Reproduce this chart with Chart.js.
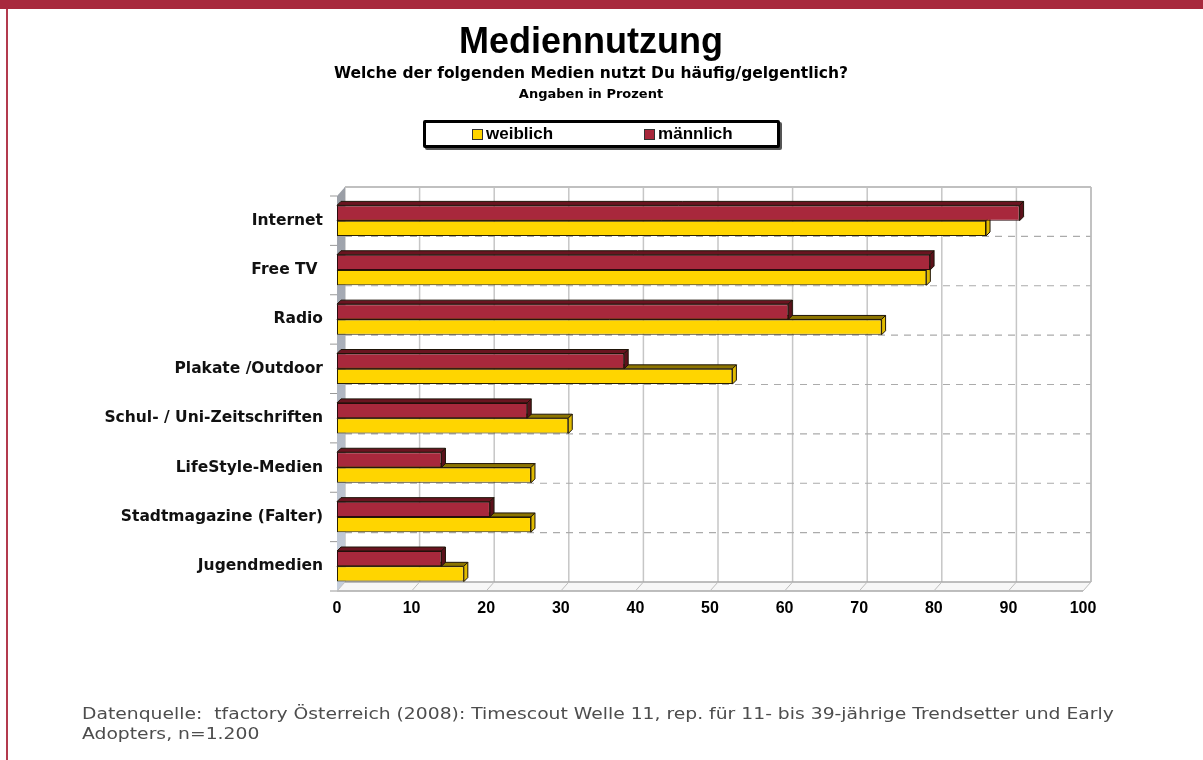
<!DOCTYPE html>
<html lang="de">
<head>
<meta charset="UTF-8">
<title>Mediennutzung</title>
<script src="https://cdn.jsdelivr.net/npm/chart.js@4.4.0/dist/chart.umd.min.js"></script>
<style>
    body{margin:0;background:#fff;overflow:hidden;}
    #wrap{position:relative;width:1203px;height:760px;}
    #topbar{position:absolute;left:0;top:0;width:1203px;height:9px;background:#a8293d;}
    #leftline{position:absolute;left:6px;top:9px;width:2px;height:751px;background:#b33a4d;}
    canvas{position:absolute;left:0;top:0;}
    .txt{position:absolute;left:0;width:1182px;text-align:center;color:#000;line-height:1;white-space:nowrap;}
    #titel{top:20px;font:bold 36px "Liberation Sans",Arial,sans-serif;}
    #frage{top:64px;font:bold 15.5px "DejaVu Sans",sans-serif;}
    #angaben{top:86px;font:bold 13px "DejaVu Sans",sans-serif;}
    #legende{position:absolute;left:423px;top:120px;width:305px;height:22px;border:3px solid #000;border-radius:2px;
        box-shadow:2px 2px 0 #555;background:#fff;display:flex;align-items:center;padding-left:46px;box-sizing:content-box;}
    #legende .item{display:flex;align-items:center;margin-right:91px;font:bold 17px "Liberation Sans",Arial,sans-serif;}
    #legende .box{width:9px;height:9px;border:1px solid #333;margin-right:3px;}
    #quelle{position:absolute;left:82px;top:704px;font:15px "DejaVu Sans",sans-serif;color:#4d4d4d;line-height:20px;
        white-space:nowrap;transform:scaleX(1.25);transform-origin:0 0;}
</style>
</head>
<body>
<div id="wrap">
    <div id="topbar"></div>
    <div id="leftline"></div>
    <canvas id="myChart" width="1203" height="760"></canvas>
    <div class="txt" id="titel">Mediennutzung</div>
    <div class="txt" id="frage">Welche der folgenden Medien nutzt Du häufig/gelgentlich?</div>
    <div class="txt" id="angaben">Angaben in Prozent</div>
    <div id="legende"></div>
    <div id="quelle">Datenquelle:&nbsp; tfactory Österreich (2008): Timescout Welle 11, rep. für 11- bis 39-jährige Trendsetter und Early<br>Adopters, n=1.200</div>
</div>
<script>
// Werte (Prozent)
const kategorien = ['Internet', 'Free TV ', 'Radio', 'Plakate /Outdoor', 'Schul- / Uni-Zeitschriften',
    'LifeStyle-Medien', 'Stadtmagazine (Falter)', 'Jugendmedien'];
const weiblich = [87, 79, 73, 53, 31, 26, 26, 17];
const maennlich = [91.5, 79.5, 60.5, 38.5, 25.5, 14, 20.5, 14];
const skala = [0, 10, 20, 30, 40, 50, 60, 70, 80, 90, 100];

// farben: vorne, dach, seite
const farben = {
    'männlich': {vorne: '#a8283c', dach: '#6a1420', seite: '#5c111b'},
    'weiblich': {vorne: '#ffd500', dach: '#8c7400', seite: '#e0bb00'}
};
const wand = {dx: 8, dy: -9};   // versatz der rueckwand
const balkenTiefe = 4;

var f_poly = function(ctx, pts, fill){
    ctx.beginPath();
    ctx.moveTo(pts[0][0], pts[0][1]);
    for (var i = 1; i < pts.length; i++) ctx.lineTo(pts[i][0], pts[i][1]);
    ctx.closePath();
    if (fill) { ctx.fillStyle = fill; ctx.fill(); }
};
var f_line = function(ctx, x1, y1, x2, y2){
    ctx.beginPath(); ctx.moveTo(x1, y1); ctx.lineTo(x2, y2); ctx.stroke();
};

// 3D rahmen: rueckwand, linke wand, boden
const rahmen3D = {
    id: 'rahmen3D',
    beforeDatasetsDraw(chart){
        const ctx = chart.ctx, a = chart.chartArea, x = chart.scales.x, y = chart.scales.y;
        const dx = wand.dx, dy = wand.dy;
        const band = y.getPixelForValue(1) - y.getPixelForValue(0);
        ctx.save();
        // rueckwand
        ctx.fillStyle = '#fff';
        ctx.fillRect(a.left + dx, a.top + dy, a.width, a.height);
        ctx.strokeStyle = '#c6c6c6'; ctx.lineWidth = 1.5;
        x.ticks.forEach(function(t){
            var px = x.getPixelForValue(t.value) + dx;
            f_line(ctx, px, a.top + dy, px, a.bottom + dy);
        });
        ctx.strokeStyle = '#c0c0c0'; ctx.lineWidth = 2;
        f_line(ctx, a.left + dx, a.top + dy, a.right + dx, a.top + dy);
        // gestrichelte linien zwischen kategorien
        ctx.setLineDash([7, 6]); ctx.strokeStyle = '#ababab'; ctx.lineWidth = 1.2;
        for (var i = 1; i < kategorien.length; i++){
            var py = y.getPixelForValue(i) - band / 2 + dy;
            f_line(ctx, a.left + dx, py, a.right + dx, py);
        }
        ctx.setLineDash([]);
        // linke wand
        var g = ctx.createLinearGradient(0, a.top, 0, a.bottom);
        g.addColorStop(0, '#9a9ea6'); g.addColorStop(1, '#c6cfdd');
        f_poly(ctx, [[a.left, a.top], [a.left + dx, a.top + dy], [a.left + dx, a.bottom + dy], [a.left, a.bottom]], g);
        // boden
        f_poly(ctx, [[a.left, a.bottom], [a.right, a.bottom], [a.right + dx, a.bottom + dy], [a.left + dx, a.bottom + dy]], '#f7f7f7');
        ctx.strokeStyle = '#a8a8a8'; ctx.lineWidth = 1.5;
        f_line(ctx, a.left, a.bottom, a.right, a.bottom);
        f_line(ctx, a.left + dx, a.bottom + dy, a.right + dx, a.bottom + dy);
        ctx.strokeStyle = '#bdbdbd'; ctx.lineWidth = 1.5;
        f_line(ctx, a.right + dx, a.top + dy, a.right + dx, a.bottom + dy);
        ctx.lineWidth = 1;
        x.ticks.forEach(function(t){
            var px = x.getPixelForValue(t.value);
            f_line(ctx, px, a.bottom, px + dx, a.bottom + dy);
        });
        // kleine striche an der y-achse
        ctx.strokeStyle = '#999';
        for (var k = 0; k <= kategorien.length; k++){
            var yy = y.getPixelForValue(0) - band / 2 + k * band;
            f_line(ctx, a.left - 7, yy, a.left, yy);
        }
        ctx.restore();
    },
    // dach und seite der balken
    afterDatasetDraw(chart, args){
        const ctx = chart.ctx, d = balkenTiefe;
        const f = farben[chart.data.datasets[args.index].label];
        ctx.save();
        ctx.strokeStyle = '#1e1408'; ctx.lineWidth = 1;
        args.meta.data.forEach(function(bar){
            const p = bar.getProps(['x', 'y', 'base', 'height'], true);
            const top = p.y - p.height / 2, bottom = p.y + p.height / 2;
            f_poly(ctx, [[p.base, top], [p.x, top], [p.x + d, top - d], [p.base + d, top - d]], f.dach);
            ctx.stroke();
            f_poly(ctx, [[p.x, top], [p.x + d, top - d], [p.x + d, bottom - d], [p.x, bottom]], f.seite);
            ctx.stroke();
        });
        ctx.restore();
    }
};

const ctx = document.getElementById('myChart').getContext('2d');
const myChart = new Chart(ctx, {
    type: 'bar',
    data: {
        labels: kategorien,
        datasets: [{
            label: 'männlich',
            data: maennlich,
            backgroundColor: farben['männlich'].vorne,
            borderColor: '#2a0a0e',
            borderWidth: 1,
            borderSkipped: false
        }, {
            label: 'weiblich',
            data: weiblich,
            backgroundColor: farben['weiblich'].vorne,
            borderColor: '#2a2000',
            borderWidth: 1,
            borderSkipped: false
        }]
    },
    options: {
        indexAxis: 'y',
        responsive: false,
        animation: false,
        layout: {padding: {left: 0, right: 120, top: 196, bottom: 0}},
        datasets: {bar: {categoryPercentage: 0.62, barPercentage: 1}},
        plugins: {legend: {display: false}, tooltip: {enabled: false}},
        scales: {
            x: {
                min: 0, max: 100,
                afterBuildTicks: function(s){ s.ticks = skala.map(function(v){ return {value: v}; }); },
                afterFit: function(s){ s.height = 169; },
                grid: {display: false, drawTicks: false},
                border: {display: false},
                ticks: {padding: 8, color: '#000', font: {family: '"Liberation Sans", Arial', size: 16, weight: 'bold'}}
            },
            y: {
                afterFit: function(s){ s.width = 337; },
                grid: {display: false, drawTicks: false},
                border: {display: false},
                ticks: {padding: 14, color: '#111', font: {family: '"DejaVu Sans"', size: 15.5, weight: 'bold'}}
            }
        }
    },
    plugins: [rahmen3D]
});

// legende: weiblich zuerst
var v_leg = document.getElementById('legende');
myChart.data.datasets.slice().reverse().forEach(function(ds){
    var it = document.createElement('div');
    it.className = 'item';
    var b = document.createElement('span');
    b.className = 'box';
    b.style.background = ds.backgroundColor;
    it.appendChild(b);
    it.appendChild(document.createTextNode(ds.label));
    v_leg.appendChild(it);
});
</script>
</body>
</html>
